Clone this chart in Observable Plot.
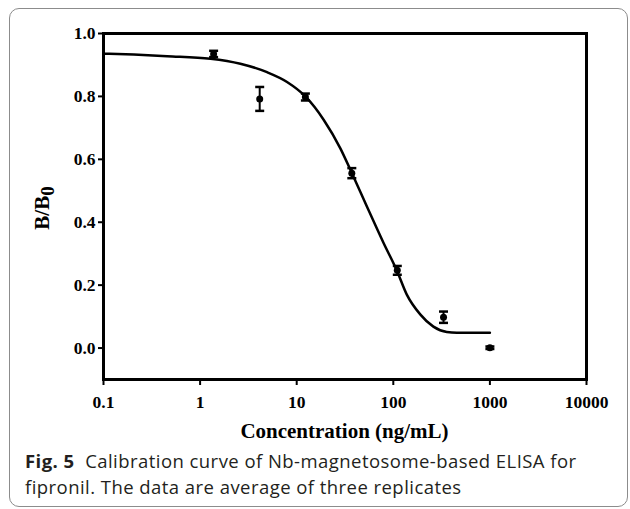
<!DOCTYPE html>
<html><head><meta charset="utf-8">
<script src="https://cdn.jsdelivr.net/npm/d3@7"></script>
<script src="https://cdn.jsdelivr.net/npm/@observablehq/plot@0.6"></script>
<style>
html,body{margin:0;padding:0;background:#fff;}
#wrap{position:relative;width:630px;height:509px;overflow:hidden;background:#fff;}
#box{position:absolute;left:9px;top:8px;width:617px;height:497px;border:1.5px solid #8c8c8c;border-radius:10px;}
#chart{position:absolute;left:0;top:0;}
#chart svg text{font-family:"Liberation Serif",serif;font-weight:bold;}
#chart svg g[aria-label$="tick label"] text{font-size:17.5px;}
#cap{position:absolute;left:25px;top:448px;font-family:"Open Sans",sans-serif;font-size:18.5px;line-height:26px;color:#231f20;white-space:nowrap;letter-spacing:0.45px;}
#cap b{font-weight:700;}
</style>
</head><body>
<div id="wrap"><div id="box"></div><div id="chart"></div>
<div id="cap"><b>Fig. 5</b>&nbsp; Calibration curve of Nb-magnetosome-based ELISA for<br>fipronil. The data are average of three replicates</div>
</div>
<script>
// Measured points (mean ± SD)
const conc = [1.38, 4.14, 12.3, 37.2, 110, 331, 1000];
const ratio = [0.935, 0.792, 0.798, 0.556, 0.247, 0.098, 0.001];
const sd = [0.010, 0.038, 0.011, 0.016, 0.014, 0.018, 0.004];
// Fitted curve
const fitConc = [0.1, 0.206, 0.456, 1.28, 2.61, 4.93, 7.94, 12.3, 19.0, 28.3, 37.3, 53.3, 79.3, 109, 138, 190, 260, 358, 455, 1000];
const fitRatio = [0.936, 0.933, 0.928, 0.920, 0.904, 0.877, 0.846, 0.800, 0.726, 0.635, 0.556, 0.450, 0.334, 0.246, 0.170, 0.107, 0.068, 0.051, 0.049, 0.049];
const xTicks = [0.1, 1, 10, 100, 1000, 10000];
const yTicks = [0, 0.2, 0.4, 0.6, 0.8, 1.0];
const xLabel = "Concentration (ng/mL)";
const yLabelMain = "B/B";
const yLabelSub = "0";

const pts = conc.map((c, i) => ({x: c, y: ratio[i], lo: ratio[i] - sd[i], hi: ratio[i] + sd[i]}));
const fit = fitConc.map((c, i) => ({x: c, y: fitRatio[i]}));

const cap = {draw(ctx, size) { const w = Math.sqrt(size / Math.PI); ctx.moveTo(-w, 0); ctx.lineTo(w, 0); }};

const plot = Plot.plot({
  width: 630, height: 450,
  marginLeft: 103, marginRight: 44, marginTop: 33, marginBottom: 71,
  style: {fontFamily: "'Liberation Serif', serif", fontSize: "17.5px", fontWeight: "bold", color: "#000", background: "transparent", overflow: "visible"},
  x: {type: "log", domain: [0.1, 10000]},
  y: {domain: [-0.1, 1.0]},
  marks: [
    Plot.axisX({ticks: xTicks, tickFormat: d => String(d), tickSize: 6, tickPadding: 10, strokeWidth: 2, fontSize: 17.5, label: null}),
    Plot.axisY({ticks: yTicks, tickFormat: d3.format(".1f"), tickSize: 5, tickPadding: 3, strokeWidth: 2, fontSize: 17.5, label: null}),
    Plot.line(fit, {x: "x", y: "y", curve: "monotone-x", stroke: "#000", strokeWidth: 2.5}),
    Plot.ruleX(pts, {x: "x", y1: "lo", y2: "hi", stroke: "#000", strokeWidth: 2}),
    Plot.dot(pts, {x: "x", y: "lo", symbol: cap, r: 4.5, stroke: "#000", strokeWidth: 2.5, fill: "none"}),
    Plot.dot(pts, {x: "x", y: "hi", symbol: cap, r: 4.5, stroke: "#000", strokeWidth: 2.5, fill: "none"}),
    Plot.dot(pts, {x: "x", y: "y", r: 3.5, fill: "#000", stroke: "none"}),
    Plot.frame({stroke: "#000", strokeWidth: 3})
  ]
});

const svg = d3.select(plot);
const xr = plot.scale("x").range, yr = plot.scale("y").range;
const cx = (xr[0] + xr[1]) / 2, cy = (yr[0] + yr[1]) / 2;
svg.append("text")
  .attr("x", cx).attr("y", 438)
  .attr("text-anchor", "middle")
  .style("font-size", "21px")
  .attr("fill", "#000")
  .text(xLabel);
const yl = svg.append("text")
  .attr("transform", `translate(49,${cy + 2}) rotate(-90)`)
  .attr("text-anchor", "middle")
  .style("font-size", "21px")
  .attr("fill", "#000");
yl.append("tspan").text(yLabelMain);
yl.append("tspan").attr("dy", 5).style("font-size", "19px").text(yLabelSub);

document.getElementById("chart").appendChild(plot);
</script>
</body></html>
